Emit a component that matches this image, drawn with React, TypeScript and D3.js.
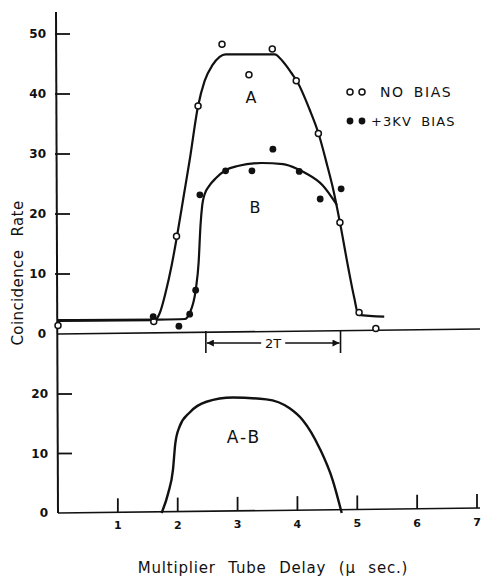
import { useEffect, useRef } from 'react';
import * as d3 from 'd3';

// Tick values
const xTicks = [1, 2, 3, 4, 5, 6, 7];
const topYTicks = [0, 10, 20, 30, 40, 50];
const bottomYTicks = [0, 10, 20];

// Measured points, top panel
const noBias = [
  [0, 1.4], [1.6, 2.1], [1.98, 16.3], [2.34, 38.0], [2.74, 48.3], [3.19, 43.2],
  [3.58, 47.5], [3.98, 42.2], [4.35, 33.4], [4.71, 18.6], [5.03, 3.6], [5.31, 0.9],
];
const bias = [
  [1.59, 2.9], [2.02, 1.3], [2.2, 3.3], [2.3, 7.3], [2.37, 23.2], [2.8, 27.2],
  [3.24, 27.2], [3.59, 30.8], [4.03, 27.1], [4.38, 22.5], [4.73, 24.2],
];

// Hand-drawn fitted curves
const curveA = [
  [0, 2.2], [1.62, 2.3], [1.7, 3.5], [1.8, 7], [1.9, 11.5], [2.0, 17], [2.1, 23],
  [2.2, 29], [2.34, 38], [2.45, 42.2], [2.58, 44.8], [2.7, 46.2], [2.8, 46.6],
  [3.62, 46.6], [3.75, 45.5], [3.9, 43.5], [4.0, 42], [4.2, 37.5], [4.35, 33.5],
  [4.5, 28], [4.6, 24], [4.71, 18.6], [4.85, 11], [4.95, 6], [5.02, 3.2], [5.45, 2.9],
];
const curveB = [
  [0, 2.3], [1.6, 2.4], [2.12, 2.5], [2.2, 3.5], [2.3, 7.3], [2.35, 12], [2.38, 18],
  [2.41, 21.5], [2.45, 23.3], [2.52, 24.6], [2.64, 26], [2.8, 27.3], [3.0, 28], [3.4, 28.5],
  [3.76, 28.3], [4.0, 27.5], [4.14, 26.8], [4.42, 24.8], [4.66, 21.5],
];
const curveDiff = [
  [1.73, 0], [1.84, 3.3], [1.92, 7.2], [1.96, 11.7], [2.03, 14.5], [2.2, 16.9],
  [2.48, 18.7], [2.92, 19.4], [3.48, 19.1], [3.87, 17.6], [4.09, 15.6], [4.37, 10.9],
  [4.59, 5.5], [4.74, 0],
];
const window2T = [2.47, 4.72];

const FONT = '"DejaVu Sans", "Liberation Sans", sans-serif';

const App = () => {
  const ref = useRef<SVGSVGElement>(null);

  useEffect(() => {
    const svg = d3.select(ref.current);
    svg.selectAll('*').remove();

    const x = d3.scaleLinear().domain([0, 7]).range([58, 477]);
    const yTop = d3.scaleLinear().domain([0, 50]).range([334, 34]);
    const yBot = d3.scaleLinear().domain([0, 20]).range([513, 394]);

    const ink = '#111';

    svg
      .append('defs')
      .append('marker')
      .attr('id', 'arr')
      .attr('viewBox', '0 0 10 10')
      .attr('refX', 10)
      .attr('refY', 5)
      .attr('markerWidth', 9)
      .attr('markerHeight', 7)
      .attr('markerUnits', 'userSpaceOnUse')
      .attr('orient', 'auto')
      .append('path')
      .attr('d', 'M0,0 L10,5 L0,10 Z')
      .attr('fill', ink);

    const g = svg.append('g');

    // shared y axis line
    g.append('line')
      .attr('x1', x(0) - 2).attr('x2', x(0))
      .attr('y1', 12).attr('y2', yBot(0))
      .attr('stroke', ink).attr('stroke-width', 2);

    // top zero line and bottom x axis
    g.append('line')
      .attr('x1', x(0)).attr('x2', 480)
      .attr('y1', yTop(0)).attr('y2', yTop(0) - 5)
      .attr('stroke', ink).attr('stroke-width', 1.6);
    g.append('line')
      .attr('x1', x(0)).attr('x2', 480)
      .attr('y1', yBot(0)).attr('y2', yBot(0) - 5)
      .attr('stroke', ink).attr('stroke-width', 1.6);

    // y ticks
    const tickLabel = (sel: any) =>
      sel.attr('font-family', FONT).attr('font-size', 12).attr('font-weight', 'bold')
        .attr('fill', ink);

    topYTicks.forEach((v) => {
      if (v > 0) {
        g.append('line')
          .attr('x1', x(0) - 3).attr('x2', x(0) + 12)
          .attr('y1', yTop(v)).attr('y2', yTop(v))
          .attr('stroke', ink).attr('stroke-width', 1.8);
      }
      g.append('text')
        .attr('x', x(0) - 12).attr('y', yTop(v)).attr('dy', '0.36em')
        .attr('text-anchor', 'end').text(v).call(tickLabel);
    });
    bottomYTicks.forEach((v) => {
      if (v > 0) {
        g.append('line')
          .attr('x1', x(0)).attr('x2', x(0) + 14)
          .attr('y1', yBot(v)).attr('y2', yBot(v))
          .attr('stroke', ink).attr('stroke-width', 1.8);
      }
      g.append('text')
        .attr('x', x(0) - 10).attr('y', yBot(v)).attr('dy', '0.36em')
        .attr('text-anchor', 'end').text(v).call(tickLabel);
    });

    // x ticks on bottom axis
    xTicks.forEach((v, i) => {
      const yb = yBot(0) - (5 * x(v) - 5 * x(0)) / (480 - x(0));
      g.append('line')
        .attr('x1', x(v)).attr('x2', x(v))
        .attr('y1', yb).attr('y2', yb - 14)
        .attr('stroke', ink).attr('stroke-width', 1.8);
      g.append('text')
        .attr('x', x(v)).attr('y', yBot(0) + 16 - i * 0.5)
        .attr('text-anchor', 'middle').text(v).call(tickLabel)
        .attr('font-size', 11);
    });

    // curves
    const lineTop = d3.line<number[]>()
      .x((d) => x(d[0])).y((d) => yTop(d[1])).curve(d3.curveMonotoneX);
    const lineBot = d3.line<number[]>()
      .x((d) => x(d[0])).y((d) => yBot(d[1])).curve(d3.curveMonotoneX);

    [curveA, curveB].forEach((c) => {
      g.append('path').attr('d', lineTop(c)).attr('fill', 'none')
        .attr('stroke', ink).attr('stroke-width', 2.2).attr('stroke-linejoin', 'round');
    });
    g.append('path').attr('d', lineBot(curveDiff)).attr('fill', 'none')
      .attr('stroke', ink).attr('stroke-width', 2.4);

    // points
    g.selectAll('circle.nb').data(noBias).enter().append('circle')
      .attr('cx', (d) => x(d[0])).attr('cy', (d) => yTop(d[1])).attr('r', 3)
      .attr('fill', '#fff').attr('stroke', ink).attr('stroke-width', 1.5);
    g.selectAll('circle.b').data(bias).enter().append('circle')
      .attr('cx', (d) => x(d[0])).attr('cy', (d) => yTop(d[1])).attr('r', 3.4)
      .attr('fill', ink);

    // curve labels
    const lbl = (tx: number, ty: number, s: string, size = 16) =>
      g.append('text').attr('x', tx).attr('y', ty).attr('dy', '0.36em')
        .attr('text-anchor', 'middle').attr('font-family', FONT)
        .attr('font-size', size).attr('fill', ink).text(s);
    lbl(251, 97, 'A');
    lbl(255, 207, 'B');
    lbl(244, 437, 'A-B', 17).attr('letter-spacing', 2);

    // legend
    [350, 362].forEach((cx) => {
      g.append('circle').attr('cx', cx).attr('cy', 92).attr('r', 3)
        .attr('fill', '#fff').attr('stroke', ink).attr('stroke-width', 1.5);
      g.append('circle').attr('cx', cx).attr('cy', 121).attr('r', 3.4).attr('fill', ink);
    });
    g.append('text').attr('x', 380).attr('y', 92).attr('dy', '0.36em')
      .attr('font-family', FONT).attr('font-size', 14).attr('letter-spacing', 1.6)
      .attr('word-spacing', 3).attr('fill', ink).text('NO BIAS');
    g.append('text').attr('x', 371).attr('y', 121).attr('dy', '0.36em')
      .attr('font-family', FONT).attr('font-size', 13).attr('letter-spacing', 1.1)
      .attr('word-spacing', 4).attr('fill', ink).text('+3KV BIAS');

    // 2T window
    const [t0, t1] = window2T;
    const ay = 343;
    [t0, t1].forEach((t) => {
      g.append('line').attr('x1', x(t)).attr('x2', x(t))
        .attr('y1', 331).attr('y2', 353).attr('stroke', ink).attr('stroke-width', 1.6);
    });
    const mid = (x(t0) + x(t1)) / 2;
    g.append('line').attr('x1', mid - 12).attr('x2', x(t0) + 1)
      .attr('y1', ay).attr('y2', ay).attr('stroke', ink).attr('stroke-width', 1.4)
      .attr('marker-end', 'url(#arr)');
    g.append('line').attr('x1', mid + 12).attr('x2', x(t1) - 1)
      .attr('y1', ay).attr('y2', ay).attr('stroke', ink).attr('stroke-width', 1.4)
      .attr('marker-end', 'url(#arr)');
    g.append('text').attr('x', mid).attr('y', ay).attr('dy', '0.36em')
      .attr('text-anchor', 'middle').attr('font-family', FONT).attr('font-size', 13)
      .attr('fill', ink).text('2T');

    // axis titles
    g.append('text').attr('x', 273).attr('y', 568).attr('dy', '0.36em')
      .attr('text-anchor', 'middle').attr('font-family', FONT).attr('font-size', 15)
      .attr('letter-spacing', 0.8).attr('word-spacing', 7).attr('fill', ink)
      .text('Multiplier Tube Delay (\u00b5 sec.)');
    g.append('text')
      .attr('transform', 'translate(18,273) rotate(-90)')
      .attr('text-anchor', 'middle').attr('dy', '0.36em')
      .attr('font-family', FONT).attr('font-size', 15).attr('letter-spacing', 0.4)
      .attr('word-spacing', 8).attr('fill', ink).text('Coincidence Rate');

    return () => {
      svg.selectAll('*').remove();
    };
  }, []);

  return (
    <svg
      ref={ref}
      width={482}
      height={576}
      style={{ position: 'absolute', left: 0, top: 0, background: '#fff' }}
    />
  );
};

export default App;
